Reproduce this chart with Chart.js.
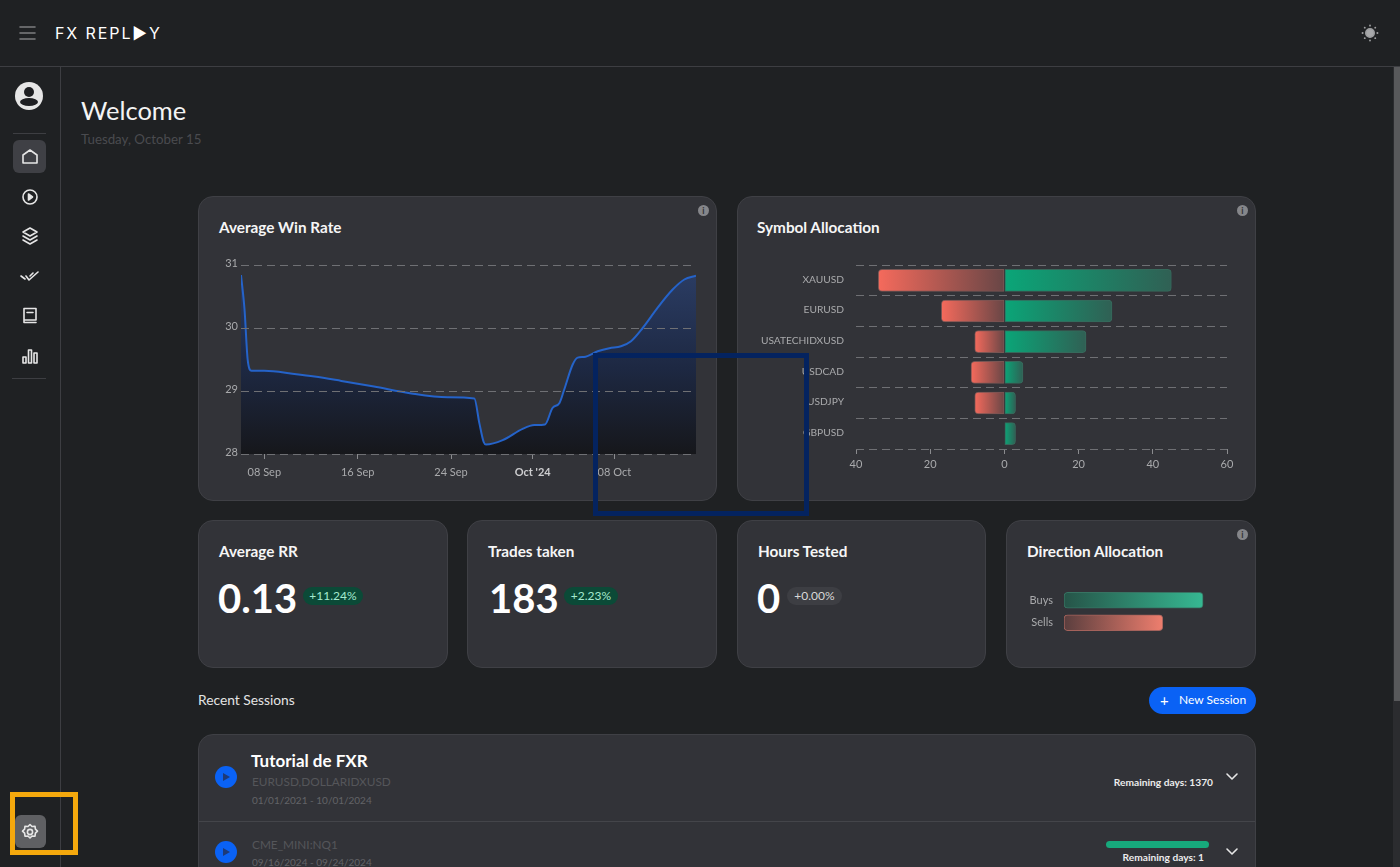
<!DOCTYPE html>
<html>
<head>
<meta charset="utf-8">
<title>FX Replay</title>
<script src="https://cdn.jsdelivr.net/npm/chart.js@4"></script>
<style>
* { box-sizing: border-box; margin: 0; padding: 0; }
html, body { width: 1400px; height: 867px; overflow: hidden; background: #1f2123; font-family: Lato, sans-serif; color: #fff; }
.abs, .card, canvas, .txt { position: absolute; }
.txt { white-space: nowrap; line-height: 1; }
.card { background: #323338; border: 1px solid #3f4045; border-radius: 15px; }
.title { font-size: 15.3px; font-weight: 700; color: #f6f6f6; transform: translateY(-50%); }
.big { font-size: 40px; font-weight: 700; transform: translateY(-50%); }
.pill { height: 18px; line-height: 18px; border-radius: 9px; text-align: center; font-size: 12px; }
.up { background: #0b4a37; color: #a5e9cf; }
.flat { background: #3d3e43; color: #d8d8d8; }
.info { width: 11px; height: 11px; border-radius: 50%; background: #85868a; color: #323338; font-size: 9px; line-height: 11px; text-align: center; font-weight: 700; }
.rule { background: #3d3e42; }
.mid { transform: translateY(-50%); }
svg { position: absolute; fill: none; stroke: #e6e6e6; stroke-width: 1.6; stroke-linecap: round; stroke-linejoin: round; }
</style>
</head>
<body>
<!-- header and sidebar -->
<div class="abs rule" style="left:0;top:66px;width:1400px;height:1px"></div>
<div class="abs rule" style="left:60px;top:67px;width:1px;height:800px"></div>
<div class="abs" style="left:1393px;top:67px;width:7px;height:800px;background:#2b2c2f"></div>
<div class="abs" style="left:1394px;top:67px;width:6px;height:634px;background:#58595b"></div>
<svg style="left:19px;top:24px;stroke:#7d7e80" width="18" height="18"><path d="M1 3h15M1 9h15M1 15h15"/></svg>
<div class="txt mid" style="left:55px;top:33px;font-family:Inter;font-size:16px;letter-spacing:1.9px;font-weight:400">FX REPL▶Y</div>
<svg style="left:1360px;top:23px;stroke:#9d9ea0" width="20" height="20"><circle cx="10" cy="10" r="4.2" fill="#a8a9ab"/><path stroke-width="1.8" d="M10 2.5v.2M10 17.3v.2M2.5 10h.2M17.3 10h.2M4.7 4.7h.1M15.2 15.2h.1M4.7 15.2h.1M15.2 4.7h.1"/></svg>

<div class="abs" style="left:15px;top:82px;width:28px;height:28px;border-radius:50%;background:#e6e6e6;overflow:hidden">
  <div class="abs" style="left:9px;top:5px;width:10px;height:10px;border-radius:50%;background:#1e1f22"></div>
  <div class="abs" style="left:5px;top:16px;width:18px;height:8px;border-radius:50%;background:#1e1f22"></div>
</div>
<div class="abs rule" style="left:13px;top:133px;width:33px;height:1px"></div>
<div class="abs" style="left:13px;top:140px;width:33px;height:33px;border-radius:6px;background:#3f4045"></div>
<svg style="left:21px;top:148px" width="18" height="18"><path d="M2 15V7l7-5 7 5v8z"/></svg>
<svg style="left:21px;top:188px" width="18" height="18"><circle cx="9" cy="9" r="7"/><path d="M7.5 6l4 3-4 3z" fill="#e6e6e6"/></svg>
<svg style="left:21px;top:227px" width="18" height="18"><path d="M9 1l7 4-7 4-7-4zM2 9l7 4 7-4M2 13l7 4 7-4"/></svg>
<svg style="left:20px;top:268px" width="20" height="16"><path d="M1 8l4 3M6 8l3 4 9-8M10 8l3-3"/></svg>
<svg style="left:21px;top:306px" width="18" height="18"><path d="M3 14V2.5h12V14zM3 14v2.5h12M6 6.5h6"/></svg>
<svg style="left:21px;top:347px" width="18" height="18"><path d="M2 10h3v6H2zM7.5 3h3v13h-3zM13 6h3v10h-3z"/></svg>
<div class="abs rule" style="left:12px;top:378px;width:34px;height:1px"></div>
<div class="abs" style="left:15px;top:815px;width:31px;height:33px;border-radius:6px;background:#5f6063"></div>
<svg style="left:21px;top:823px" width="18" height="18"><path d="M9 1.5l2 2 3-.3.4 3 2.1 2-2.1 2-.4 3-3-.2-2 2-2-2-3 .2-.4-3-2.1-2 2.1-2 .4-3 3 .3z"/><circle cx="9" cy="9" r="2.6"/></svg>

<div class="txt mid" style="left:81px;top:111px;font-size:25.5px;color:#f4f4f4">Welcome</div>
<div class="txt mid" style="left:81px;top:140px;font-size:13.3px;color:#4a4b4f">Tuesday, October 15</div>

<!-- top row -->
<div class="card" style="left:198px;top:196px;width:519px;height:305px"></div>
<div class="txt title" style="left:219px;top:228px">Average Win Rate</div>
<div class="abs info" style="left:698px;top:205px">i</div>
<canvas id="winRateChart" width="519" height="305" style="left:198px;top:196px"></canvas>

<div class="card" style="left:737px;top:196px;width:519px;height:305px"></div>
<div class="txt title" style="left:757px;top:228px">Symbol Allocation</div>
<div class="abs info" style="left:1237px;top:205px">i</div>
<canvas id="symbolChart" width="519" height="305" style="left:737px;top:196px"></canvas>

<!-- stat row -->
<div class="card" style="left:198px;top:520px;width:250px;height:148px"></div>
<div class="txt title" style="left:219px;top:552px">Average RR</div>
<div class="txt big" style="left:218px;top:598px">0.13</div>
<div class="abs pill up" style="left:303px;top:587px;width:60px">+11.24%</div>

<div class="card" style="left:467px;top:520px;width:250px;height:148px"></div>
<div class="txt title" style="left:488px;top:552px">Trades taken</div>
<div class="txt big" style="left:489px;top:598px">183</div>
<div class="abs pill up" style="left:564px;top:587px;width:54px">+2.23%</div>

<div class="card" style="left:737px;top:520px;width:249px;height:148px"></div>
<div class="txt title" style="left:758px;top:552px">Hours Tested</div>
<div class="txt big" style="left:757px;top:598px">0</div>
<div class="abs pill flat" style="left:787px;top:587px;width:55px">+0.00%</div>

<div class="card" style="left:1006px;top:520px;width:250px;height:148px"></div>
<div class="txt title" style="left:1027px;top:552px">Direction Allocation</div>
<div class="abs info" style="left:1237px;top:529px">i</div>
<canvas id="directionChart" width="250" height="148" style="left:1006px;top:520px"></canvas>

<!-- sessions -->
<div class="txt mid" style="left:198px;top:700px;font-size:13.8px;color:#e4e4e4">Recent Sessions</div>
<div class="abs" style="left:1149px;top:687px;width:107px;height:27px;border-radius:14px;background:#0a62f5"></div>
<div class="txt mid" style="left:1160px;top:700px;font-size:15px">+</div>
<div class="txt mid" style="left:1179px;top:700px;font-size:12px">New Session</div>

<div class="abs" style="left:198px;top:734px;width:1058px;height:160px;background:#323338;border:1px solid #3f4045;border-radius:15px"></div>
<div class="abs" style="left:199px;top:821px;width:1056px;height:1px;background:#44454a"></div>
<div class="abs" style="left:215px;top:766px;width:22px;height:22px;border-radius:50%;background:#0a62f5"></div>
<div class="abs" style="left:215px;top:841px;width:22px;height:22px;border-radius:50%;background:#0a62f5"></div>
<svg style="left:222px;top:772px;stroke:none" width="10" height="10"><path d="M1 1l7 4-7 4z" fill="#1e3a78"/></svg>
<svg style="left:222px;top:847px;stroke:none" width="10" height="10"><path d="M1 1l7 4-7 4z" fill="#1e3a78"/></svg>
<div class="txt mid" style="left:251px;top:760px;font-size:17px;font-weight:700">Tutorial de FXR</div>
<div class="txt mid" style="left:252px;top:782px;font-size:11.8px;color:#55565a">EURUSD,DOLLARIDXUSD</div>
<div class="txt mid" style="left:252px;top:800px;font-size:10px;color:#626367">01/01/2021 - 10/01/2024</div>
<div class="txt mid" style="left:252px;top:845px;font-size:11.8px;color:#55565a">CME_MINI:NQ1</div>
<div class="txt mid" style="left:252px;top:862px;font-size:10px;color:#626367">09/16/2024 - 09/24/2024</div>
<div class="txt mid" style="right:187px;top:782px;font-size:10.2px;font-weight:700;color:#ececec">Remaining days: 1370</div>
<div class="abs" style="left:1106px;top:841px;width:103px;height:7px;border-radius:4px;background:#17a97c"></div>
<div class="txt mid" style="right:196px;top:857px;font-size:10.2px;font-weight:700;color:#ececec">Remaining days: 1</div>
<svg style="left:1225px;top:771px" width="14" height="12"><path d="M2 3l5 5 5-5"/></svg>
<svg style="left:1225px;top:846px" width="14" height="12"><path d="M2 3l5 5 5-5"/></svg>

<!-- annotation frames sitting on top of the screenshot -->
<div class="abs" style="left:593px;top:353px;width:216px;height:163px;border:5px solid #04235f"></div>
<div class="abs" style="left:10px;top:792px;width:68px;height:63px;border:5px solid #f4a80d"></div>

<script>
const winRateDays = [6, 6.3, 6.57, 6.9, 8, 10.57, 12.3, 14.6, 17.4, 20.6, 23.7, 26, 26.43, 26.8, 27, 28.43, 30.14, 31.14, 32.06, 32.7, 33.3, 33.7, 34.43, 34.86, 35.4, 36.57, 37.57, 38.57, 39.43, 40.43, 41.7, 43, 44, 45];
const winRateValues = [30.84, 30.3, 29.5, 29.32, 29.32, 29.27, 29.23, 29.16, 29.07, 28.96, 28.9, 28.88, 28.49, 28.19, 28.15, 28.22, 28.4, 28.46, 28.47, 28.73, 28.81, 29.02, 29.42, 29.53, 29.54, 29.63, 29.68, 29.71, 29.79, 30.0, 30.32, 30.61, 30.77, 30.83];
const winRateTickDays = [8, 16, 24, 31, 38];
const winRateTickLabels = ['08 Sep', '16 Sep', '24 Sep', "Oct '24", '08 Oct'];

const symbols = ['XAUUSD', 'EURUSD', 'USATECHIDXUSD', 'USDCAD', 'USDJPY', 'GBPUSD'];
const symbolSells = [-34, -17, -8, -9, -8, 0];
const symbolBuys = [45, 29, 22, 5, 3, 3];

const directions = ['Buys', 'Sells'];
const directionTrades = [107, 76];

const tickColor = '#a9aaac';
const gridColor = '#6f7074';
const gridDash = [8, 5];

function fixedAxisSize(size) {
    return function (scale) {
        if (scale.isHorizontal()) {
            scale.height = size;
        } else {
            scale.width = size;
        }
    };
}

function isMonthTick(context) {
    return context.tick && context.tick.value === 31;
}

function initWinRateChart() {
    new Chart(document.getElementById('winRateChart'), {
        type: 'line',
        data: {
            datasets: [{
                data: winRateDays.map((day, i) => ({ x: day, y: winRateValues[i] })),
                borderColor: '#2563c9',
                borderWidth: 2,
                pointRadius: 0,
                cubicInterpolationMode: 'monotone',
                fill: 'start',
                backgroundColor: function (context) {
                    const area = context.chart.chartArea;
                    if (!area) {
                        return 'transparent';
                    }
                    const gradient = context.chart.ctx.createLinearGradient(0, area.top, 0, area.bottom);
                    gradient.addColorStop(0, 'rgb(44, 62, 102)');
                    gradient.addColorStop(0.55, 'rgb(29, 40, 66)');
                    gradient.addColorStop(1, 'rgb(22, 23, 27)');
                    return gradient;
                },
            }]
        },
        options: {
            responsive: false,
            animation: false,
            layout: { padding: { top: 69, right: 21, bottom: 20, left: 0 } },
            plugins: { legend: { display: false }, tooltip: { enabled: false } },
            scales: {
                x: {
                    type: 'linear',
                    min: 6,
                    max: 45,
                    afterFit: fixedAxisSize(27),
                    afterBuildTicks: function (scale) {
                        scale.ticks = winRateTickDays.map(day => ({ value: day }));
                    },
                    border: { display: false },
                    grid: { drawOnChartArea: false, tickColor: '#8a8b8e', tickLength: 5 },
                    ticks: {
                        color: function (context) {
                            return isMonthTick(context) ? '#cdcdcf' : tickColor;
                        },
                        font: function (context) {
                            return { family: 'Lato', size: 11, weight: isMonthTick(context) ? 'bold' : 'normal' };
                        },
                        padding: 7,
                        maxRotation: 0,
                        autoSkip: false,
                        callback: function (value) {
                            return winRateTickLabels[winRateTickDays.indexOf(value)];
                        },
                    },
                },
                y: {
                    min: 28,
                    max: 31,
                    afterFit: fixedAxisSize(43),
                    border: { display: false, dash: gridDash },
                    grid: { color: gridColor, drawTicks: false, z: 1 },
                    ticks: { stepSize: 1, color: tickColor, font: { family: 'Lato', size: 11 }, padding: 3, labelOffset: -2 },
                },
            }
        }
    });
}

function barGradient(context, fromValue, toValue, fromColor, toColor) {
    const scale = context.chart.scales.x;
    const gradient = context.chart.ctx.createLinearGradient(scale.getPixelForValue(fromValue), 0, scale.getPixelForValue(toValue), 0);
    gradient.addColorStop(0, fromColor);
    gradient.addColorStop(1, toColor);
    return gradient;
}

function initSymbolChart() {
    new Chart(document.getElementById('symbolChart'), {
        type: 'bar',
        data: {
            labels: symbols,
            datasets: [{
                label: 'Sells',
                data: symbolSells,
                borderWidth: 1,
                borderColor: 'rgba(255, 150, 135, 0.35)',
                borderRadius: { topLeft: 4, bottomLeft: 4, topRight: 0, bottomRight: 0 },
                borderSkipped: false,
                barThickness: 22,
                backgroundColor: function (context) {
                    if (!context.chart.chartArea) {
                        return 'transparent';
                    }
                    return barGradient(context, context.raw, 0, 'rgb(245, 106, 92)', 'rgb(104, 70, 70)');
                },
            }, {
                label: 'Buys',
                data: symbolBuys,
                borderWidth: 1,
                borderColor: 'rgba(60, 170, 135, 0.45)',
                borderRadius: { topLeft: 0, bottomLeft: 0, topRight: 4, bottomRight: 4 },
                borderSkipped: false,
                barThickness: 22,
                backgroundColor: function (context) {
                    if (!context.chart.chartArea) {
                        return 'transparent';
                    }
                    return barGradient(context, 0, context.raw, 'rgb(10, 166, 120)', 'rgb(48, 96, 84)');
                },
            }]
        },
        options: {
            indexAxis: 'y',
            responsive: false,
            animation: false,
            layout: { padding: { top: 69, right: 29, bottom: 20, left: 0 } },
            plugins: { legend: { display: false }, tooltip: { enabled: false } },
            scales: {
                x: {
                    min: -40,
                    max: 60,
                    stacked: true,
                    afterFit: fixedAxisSize(32),
                    border: { display: false },
                    grid: { drawOnChartArea: false, tickColor: '#8a8b8e', tickLength: 5 },
                    ticks: {
                        stepSize: 20,
                        color: tickColor,
                        font: { family: 'Lato', size: 11 },
                        padding: 4,
                        callback: function (value) {
                            return Math.abs(value);
                        },
                    },
                },
                y: {
                    stacked: true,
                    afterFit: fixedAxisSize(119),
                    border: { display: false, dash: gridDash },
                    grid: { color: gridColor, drawTicks: false },
                    ticks: { color: tickColor, font: { family: 'Lato', size: 10.2 }, padding: 12, labelOffset: -1 },
                },
            }
        }
    });
}

function initDirectionChart() {
    new Chart(document.getElementById('directionChart'), {
        type: 'bar',
        data: {
            labels: directions,
            datasets: [{
                data: directionTrades,
                barThickness: 16,
                borderWidth: 1,
                borderRadius: 4,
                borderSkipped: false,
                borderColor: ['rgba(60, 180, 140, 0.5)', 'rgba(240, 130, 115, 0.6)'],
                backgroundColor: function (context) {
                    if (!context.chart.chartArea) {
                        return 'transparent';
                    }
                    const colors = context.dataIndex === 0
                        ? ['rgb(38, 84, 72)', 'rgb(54, 184, 146)']
                        : ['rgb(90, 62, 62)', 'rgb(238, 126, 110)'];
                    return barGradient(context, 0, context.raw, colors[0], colors[1]);
                },
            }]
        },
        options: {
            indexAxis: 'y',
            responsive: false,
            animation: false,
            layout: { padding: { top: 69, right: 36, bottom: 34, left: 0 } },
            plugins: { legend: { display: false }, tooltip: { enabled: false } },
            scales: {
                x: { display: false, min: 0, max: 120 },
                y: {
                    afterFit: fixedAxisSize(58),
                    border: { display: false },
                    grid: { display: false, drawTicks: false },
                    ticks: { color: tickColor, font: { family: 'Lato', size: 11 }, padding: 11 },
                },
            }
        }
    });
}

initWinRateChart();
initSymbolChart();
initDirectionChart();
</script>
</body>
</html>
